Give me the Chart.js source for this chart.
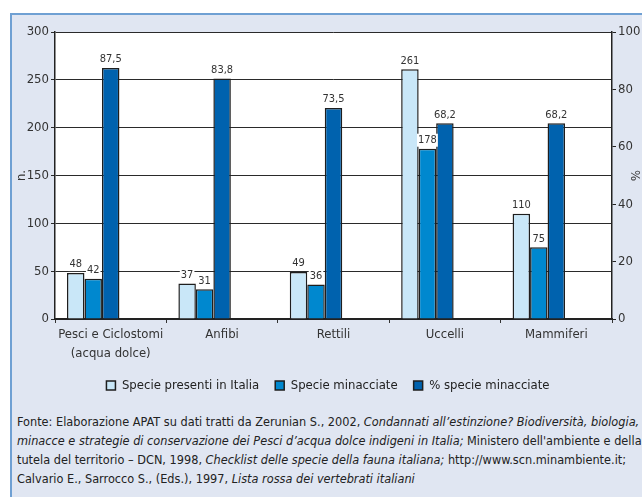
<!DOCTYPE html>
<html lang="it">
<head>
<meta charset="UTF-8">
<title>Specie presenti e minacciate in Italia</title>
<style>
  html, body { margin: 0; padding: 0; width: 642px; height: 497px; overflow: hidden; background: #fff; }
  #frame {
    position: absolute; left: 10px; top: 13px; width: 700px; height: 520px;
    background: #e0e6f2; border-left: 2px solid #6fa0d3; border-top: 2px solid #6fa0d3;
  }
  #wrap { position: absolute; left: 0; top: 0; width: 642px; height: 402px; }
  #note {
    position: absolute; left: 17px; top: 412px; width: 720px;
    font: 12.6px 'Liberation Sans Narrow', 'DejaVu Sans Condensed', sans-serif;
    line-height: 19px; color: #222; white-space: nowrap;
  }
</style>
</head>
<body>
<div id="frame"></div>
<div id="wrap"><canvas id="chart" width="642" height="402"></canvas></div>
<div id="note">
  Fonte: Elaborazione APAT su dati tratti da Zerunian S., 2002, <i>Condannati all’estinzione? Biodiversità, biologia,</i><br>
  <i>minacce e strategie di conservazione dei Pesci d’acqua dolce indigeni in Italia;</i> Ministero dell'ambiente e della<br>
  tutela del territorio – DCN, 1998, <i>Checklist delle specie della fauna italiana;</i> http://www.scn.minambiente.it;<br>
  Calvario E., Sarrocco S., (Eds.), 1997, <i>Lista rossa dei vertebrati italiani</i>
</div>
<script src="https://cdn.jsdelivr.net/npm/chart.js@4/dist/chart.umd.min.js"></script>
<script>
  const FONT = "'Liberation Sans Narrow', 'DejaVu Sans Condensed', sans-serif";

  const categories = [['Pesci e Ciclostomi', '(acqua dolce)'], 'Anfibi', 'Rettili', 'Uccelli', 'Mammiferi'];
  const speciePresenti = [48, 37, 49, 261, 110];
  const specieMinacciate = [42, 31, 36, 178, 75];
  const percMinacciate = [87.5, 83.8, 73.5, 68.2, 68.2];

  // white plot area
  const plotBg = {
    id: 'plotBg',
    beforeDraw(chart) {
      const { ctx, chartArea: a } = chart;
      ctx.save();
      ctx.fillStyle = '#fff';
      ctx.fillRect(a.left, a.top, a.right - a.left, a.bottom - a.top);
      ctx.restore();
    }
  };

  // value labels above bars
  const valueLabels = {
    id: 'valueLabels',
    afterDatasetsDraw(chart) {
      const ctx = chart.ctx;
      ctx.save();
      ctx.font = '11px ' + FONT;
      ctx.textAlign = 'center';
      ctx.textBaseline = 'bottom';
      chart.data.datasets.forEach((ds, i) => {
        if (!ds.label) return;
        chart.getDatasetMeta(i).data.forEach((bar, j) => {
          const v = ds.data[j];
          const txt = i === 2 ? v.toFixed(1).replace('.', ',') : String(v);
          const w = ctx.measureText(txt).width;
          ctx.fillStyle = '#fff';
          ctx.fillRect(bar.x - w / 2 - 1, bar.y - 15, w + 2, 13);
          ctx.fillStyle = '#333';
          ctx.fillText(txt, bar.x, bar.y - 3);
        });
      });
      ctx.restore();
    }
  };

  const border = '#1e1e1e';

  new Chart(document.getElementById('chart'), {
    type: 'bar',
    data: {
      labels: categories,
      datasets: [
        { label: 'Specie presenti in Italia', data: speciePresenti, backgroundColor: '#c9e7f8', borderColor: border, borderWidth: 1.5, yAxisID: 'y' },
        { label: 'Specie minacciate', data: specieMinacciate, backgroundColor: '#0088cf', borderColor: border, borderWidth: 1.5, yAxisID: 'y' },
        { label: '% specie minacciate', data: percMinacciate, backgroundColor: '#0062ae', borderColor: border, borderWidth: 1.5, yAxisID: 'y1' },
        // empty slots so the % bar sits on the category centre
        { label: '', data: [], yAxisID: 'y' },
        { label: '', data: [], yAxisID: 'y' }
      ]
    },
    options: {
      responsive: false,
      animation: false,
      categoryPercentage: 0.785,
      barPercentage: 1,
      layout: { padding: { left: 14, top: 32, right: 0, bottom: 0 } },
      scales: {
        x: {
          grid: { drawOnChartArea: false, tickLength: 4, color: '#333' },
          border: { color: '#222', width: 2 },
          ticks: { color: '#333', font: { family: FONT, size: 13, lineHeight: 1.4 }, padding: 3, maxRotation: 0, autoSkip: false },
          afterFit(s) { s.height = 44; }
        },
        y: {
          position: 'left',
          min: 0, max: 300,
          ticks: { stepSize: 50, color: '#333', font: { family: FONT, size: 13 }, padding: 2 },
          grid: { color: '#2a2a2a', tickLength: 4 },
          border: { color: '#222', width: 1.5 },
          title: { display: true, text: 'n.', color: '#333', font: { family: FONT, size: 13 }, padding: 0 },
          afterFit(s) { s.width = 41; }
        },
        y1: {
          position: 'right',
          min: 0, max: 100,
          ticks: { stepSize: 20, color: '#333', font: { family: FONT, size: 13 }, padding: 2 },
          grid: { drawOnChartArea: false, tickLength: 4, color: '#222' },
          border: { color: '#222', width: 1.5 },
          title: { display: true, text: '%', color: '#333', font: { family: FONT, size: 13 }, padding: 0 },
          afterFit(s) { s.width = 30; }
        }
      },
      plugins: {
        legend: {
          position: 'bottom',
          labels: {
            boxWidth: 9, boxHeight: 9, padding: 16, color: '#222',
            font: { family: FONT, size: 13 },
            filter: item => item.text !== ''
          }
        },
        tooltip: { enabled: false }
      }
    },
    plugins: [plotBg, valueLabels]
  });
</script>
</body>
</html>
